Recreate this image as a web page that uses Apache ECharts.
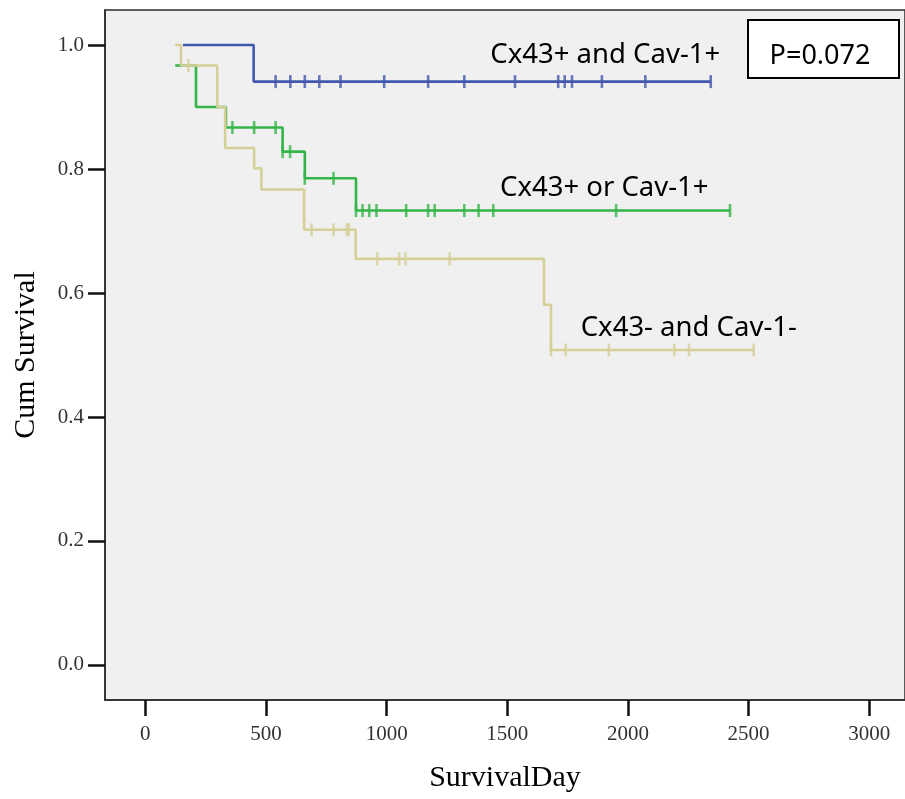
<!DOCTYPE html>
<html>
<head>
<meta charset="utf-8">
<script src="https://cdn.jsdelivr.net/npm/echarts@6/dist/echarts.min.js"></script>
<style>
html,body{margin:0;padding:0;background:#fff;}
#chart{width:905px;height:799px;}
</style>
</head>
<body>
<div id="chart"></div>
<script>
// ---- data (survival curves: [time, cumulative survival]) ----
var xTicks = [0, 500, 1000, 1500, 2000, 2500, 3000];
var yTicks = [0, 0.2, 0.4, 0.6, 0.8, 1.0];

var bothPosSteps = [[156, 1.0], [449, 0.941], [2343, 0.941]];
var bothPosCensor = [[540,0.941],[601,0.941],[661,0.941],[721,0.941],[809,0.941],[990,0.941],[1172,0.941],[1322,0.941],[1532,0.941],[1711,0.941],[1738,0.941],[1768,0.941],[1892,0.941],[2072,0.941],[2343,0.941]];

var onePosSteps = [[124, 0.967], [210, 0.900], [334, 0.867], [569, 0.828], [661, 0.785], [873, 0.733], [2423, 0.733]];
var onePosCensor = [[361,0.867],[451,0.867],[540,0.867],[569,0.828],[600,0.828],[661,0.785],[780,0.785],[873,0.733],[900,0.733],[928,0.733],[958,0.733],[1081,0.733],[1172,0.733],[1199,0.733],[1322,0.733],[1381,0.733],[1442,0.733],[1951,0.733],[2423,0.733]];

var bothNegSteps = [[124, 1.0], [148, 0.967], [298, 0.900], [331, 0.834], [451, 0.801], [481, 0.767], [658, 0.702], [872, 0.655], [1652, 0.581], [1681, 0.508], [2521, 0.508]];
var bothNegCensor = [[179,0.967],[689,0.702],[780,0.702],[835,0.702],[843,0.702],[961,0.655],[1052,0.655],[1078,0.655],[1261,0.655],[1681,0.508],[1742,0.508],[1921,0.508],[2192,0.508],[2253,0.508],[2521,0.508]];

var groupNames = ['Cx43+ and Cav-1+', 'Cx43+ or Cav-1+', 'Cx43- and Cav-1-'];
var groupLabelPos = [[1906, 0.984], [1902, 0.769], [2252, 0.5435]];
var pText = 'P=0.072';

var colBlue = '#4258ae', colGreen = '#33b548', colTan = '#d5cf98';

var chart = echarts.init(document.getElementById('chart'));

function stepLine(data, color, z) {
  return { type: 'line', step: 'end', data: data, symbol: 'none', z: z,
    lineStyle: { color: color, width: 2.6 }, animation: false, silent: true };
}
function censors(data, color, z) {
  return { type: 'scatter', data: data, symbol: 'rect', symbolSize: [2.6, 13], z: z,
    itemStyle: { color: color }, animation: false, silent: true };
}

var axisFont = { fontFamily: 'Liberation Serif', fontSize: 21, color: '#333' };

chart.setOption({
  backgroundColor: '#fff',
  animation: false,
  grid: { left: 105, top: 10, right: -3, bottom: 99, show: true,
    backgroundColor: '#f0f0f0', borderColor: '#2a2a2a', borderWidth: 1.5 },
  xAxis: {
    type: 'value', min: -167, max: 3148,
    name: 'SurvivalDay', nameLocation: 'middle', nameGap: 63,
    nameTextStyle: { fontFamily: 'Liberation Serif', fontSize: 30, color: '#000' },
    axisLine: { show: true, onZero: false, lineStyle: { color: '#2a2a2a', width: 1.5 } },
    axisTick: { show: true, length: 16, customValues: xTicks, lineStyle: { color: '#111', width: 2.5 } },
    axisLabel: Object.assign({ customValues: xTicks, margin: 24,
      formatter: function (v) { return String(v); } }, axisFont),
    splitLine: { show: false }
  },
  yAxis: {
    type: 'value', min: -0.0565, max: 1.0565,
    name: 'Cum Survival', nameLocation: 'middle', nameGap: 64,
    nameTextStyle: { fontFamily: 'Liberation Serif', fontSize: 30, color: '#000' },
    axisLine: { show: true, onZero: false, lineStyle: { color: '#2a2a2a', width: 1.5 } },
    axisTick: { show: true, length: 17, customValues: yTicks, lineStyle: { color: '#111', width: 2.5 } },
    axisLabel: Object.assign({ customValues: yTicks, margin: 21,
      formatter: function (v) { return v.toFixed(1); } }, axisFont),
    splitLine: { show: false }
  },
  series: [
    stepLine(onePosSteps, colGreen, 2),
    censors(onePosCensor, colGreen, 2),
    stepLine(bothNegSteps, colTan, 3),
    censors(bothNegCensor, colTan, 3),
    stepLine(bothPosSteps, colBlue, 4),
    censors(bothPosCensor, colBlue, 4)
  ]
});

var graphics = [
  { type: 'rect', shape: { x: 748, y: 20, width: 151, height: 58 }, z: 20,
    style: { fill: '#fff', stroke: '#000', lineWidth: 2 } },
  { type: 'text', x: 820, y: 56, z: 21,
    style: { text: pText, fontFamily: 'Noto Sans', fontSize: 27, fill: '#000',
      align: 'center', verticalAlign: 'middle' } }
];
groupNames.forEach(function (name, i) {
  var p = chart.convertToPixel({ gridIndex: 0 }, groupLabelPos[i]);
  graphics.push({ type: 'text', x: p[0], y: p[1], z: 15,
    style: { text: name, fontFamily: 'Noto Sans', fontSize: 27.5, fill: '#000',
      align: 'center', verticalAlign: 'middle' } });
});
chart.setOption({ graphic: graphics });
</script>
</body>
</html>
